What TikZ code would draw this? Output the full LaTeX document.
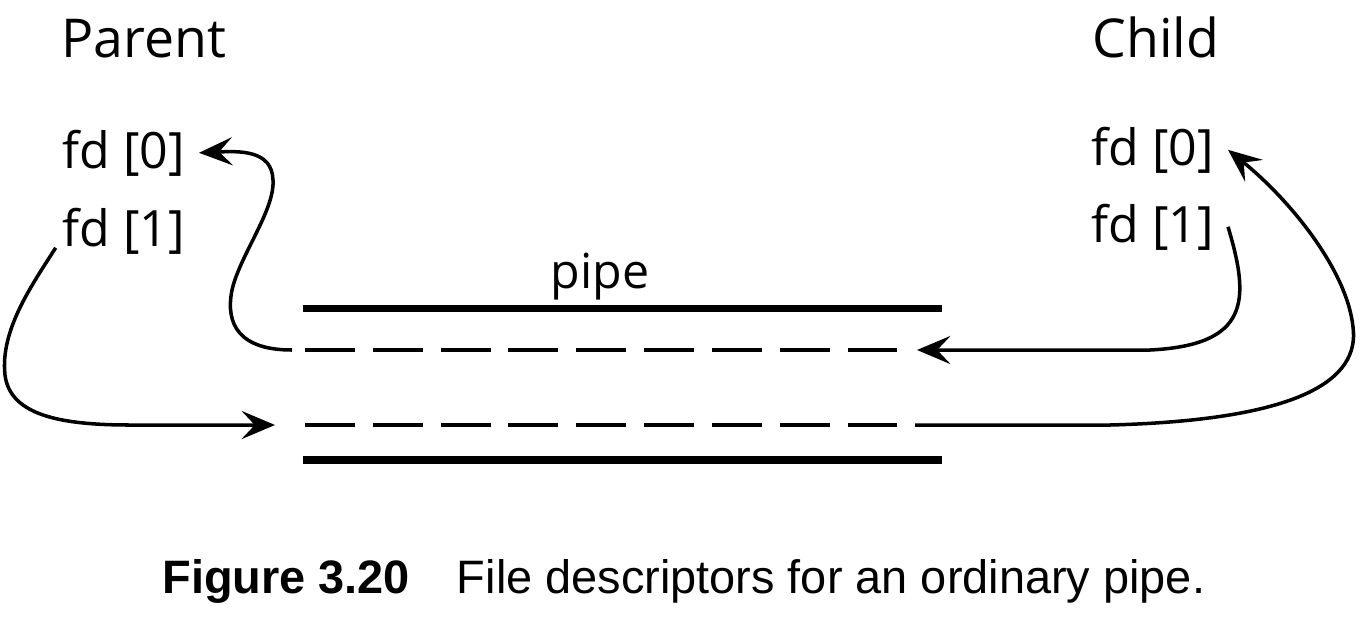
\documentclass[tikz,border=0pt]{standalone}
\usepackage{fontspec}
\setmainfont{Open Sans}
\newfontfamily\capfont{Liberation Sans}
\usepackage{tikz}
\usetikzlibrary{arrows.meta}

\begin{document}
\begin{tikzpicture}[x=0.02cm, y=-0.02cm,
  side/.style={inner sep=0pt, font=\fontsize{30.5}{36}\selectfont},
  fdlabel/.style={inner sep=0pt, outer xsep=8pt, font=\fontsize{28.5}{32}\selectfont},
  wall/.style={line width=4pt},
  flow/.style={line width=2.8pt, dash pattern=on 28.4pt off 10.2pt},
  conn/.style={line width=2pt, -{Stealth[length=19pt, width=16pt, inset=7.5pt]}}]
\useasboundingbox (0,0) rectangle (1368,616);

\node (P) [side, anchor=base] at (144,57) {Parent};
\node (C) [side, anchor=base] at (1156,57) {Child};
\node (P0) [fdlabel, anchor=base east] at (199,168) {fd [0]};
\node (P1) [fdlabel, anchor=base east] at (199,246) {fd [1]};
\node (C0) [fdlabel, anchor=base east] at (1228,165) {fd [0]};
\node (C1) [fdlabel, anchor=base east] at (1228,242) {fd [1]};
\node (pipe) [inner sep=0pt, anchor=base, font=\fontsize{27.5}{32}\selectfont] at (600,288) {pipe};

% the pipe
\draw [wall] (303,308.5) -- (942,308.5);
\draw [flow] (305,350) -- (900,350);
\draw [flow] (305,425) -- (898,425);
\draw [wall] (303,460) -- (942,460);
\coordinate (R1) at (292,350);
\coordinate (W1) at (917,350);
\coordinate (W2) at (275,425);
\coordinate (R2) at (915,425);

% parent ends
\draw [conn] (R1) .. controls (240,350) and (225,325) .. (232,290)
  .. controls (240,255) and (275,210) .. (273,180)
  .. controls (272,150) and (240,151) .. (P0.east);
\draw [conn] ([xshift=4pt, yshift=-1pt]P1.base west) .. controls (32,285) and (0,330) .. (5,375)
  .. controls (10,415) and (60,425) .. (130,425) -- (W2);

% child ends
\draw [conn] (C1.east) .. controls (1250,300) and (1250,345) .. (1150,350) -- (W1);
\draw [conn] (R2) -- (1110,425) .. controls (1300,420) and (1360,380) .. (1353,327)
  .. controls (1347,270) and (1290,200) .. (C0.east);

\node (cap) [inner sep=0pt, anchor=base west, font=\capfont\fontsize{26.7}{30}\selectfont]
  at (162,593) {\textbf{Figure 3.20}\quad File descriptors for an ordinary pipe.};
\end{tikzpicture}
\end{document}
